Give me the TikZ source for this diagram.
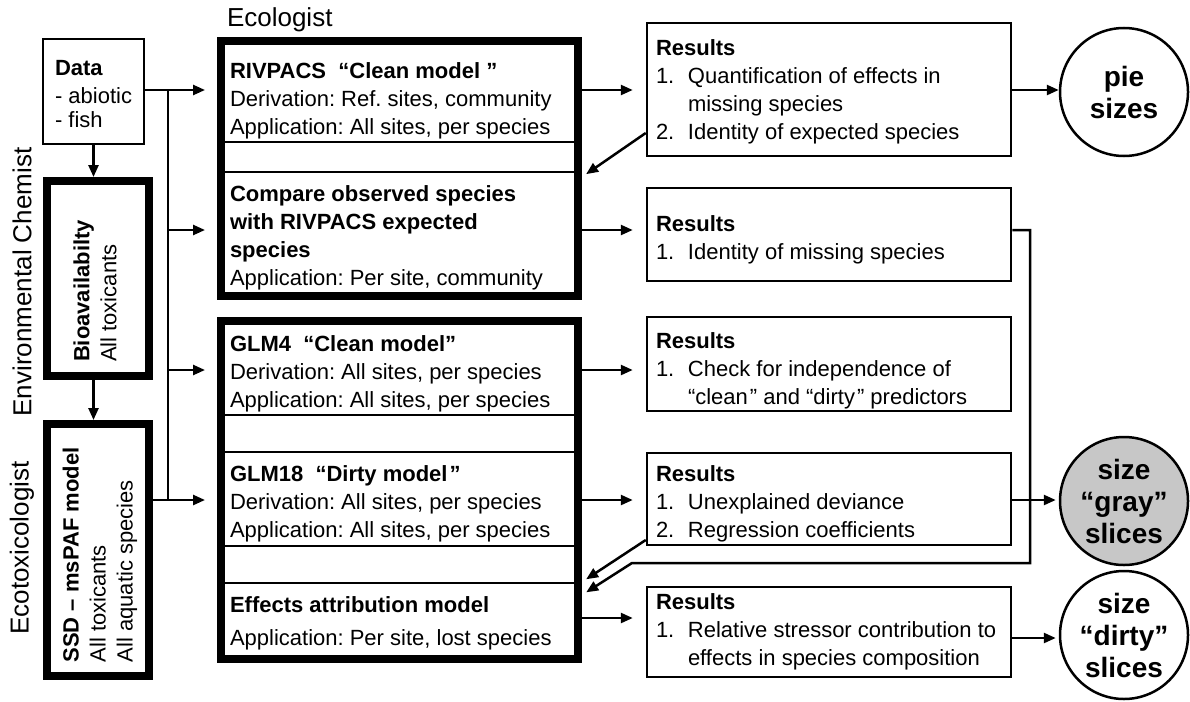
\documentclass[tikz,border=0pt]{standalone}
\usepackage{fontspec}
\setmainfont{Liberation Sans}
\usetikzlibrary{arrows.meta,calc}
\frenchspacing
\begin{document}
\begin{tikzpicture}[x=1pt,y=-1pt,
  txt/.style={inner sep=0pt, outer sep=0pt, font=\fontsize{22}{28}\selectfont, align=left, anchor=base west},
  rot/.style={inner sep=0pt, outer sep=0pt, font=\fontsize{22}{27}\selectfont, align=left, rotate=90},
  role/.style={inner sep=0pt, outer sep=0pt, font=\fontsize{26}{30}\selectfont},
  thickbox/.style={draw, line width=8pt, inner sep=0pt},
  thinbox/.style={draw, line width=2.5pt, inner sep=0pt},
  sepline/.style={line width=2pt},
  arr/.style={line width=2.5pt, -{Triangle[length=12pt,width=10pt]}},
  ln/.style={line width=2.5pt},
  circ/.style={circle, draw, line width=2.5pt, minimum size=128pt, inner sep=0pt,
    font=\bfseries\fontsize{28}{32}\selectfont, align=center},
]
\useasboundingbox (0,0) rectangle (1190,701);

% role labels
\node[role, anchor=base west] (ecol) at (227,27) {Ecologist};
\node[role, rotate=90] (envchem) at (22,282) {Environmental Chemist};
\node[role, rotate=90] (ecotox) at (22,548) {Ecotoxicologist};

% left column (text nodes anchored at the baseline of their last line)
\node[draw, line width=2pt, minimum width=101pt, minimum height=105pt] (Data) at (93.5,91.5) {};
\node[txt, font=\fontsize{22}{24}\selectfont] (datatxt) at (55,127) {\textbf{Data}\\[4pt]- abiotic\\- fish};
\node[thickbox, minimum width=102pt, minimum height=195pt] (Bio) at (98,278.5) {};
\node[rot] (biotxt) at (95,291) {\textbf{Bioavailabilty}\\All toxicants};
\node[thickbox, minimum width=102pt, minimum height=252pt] (SSD) at (98,550) {};
\node[rot] (ssdtxt) at (100,555) {\textbf{SSD – msPAF model}\\All toxicants\\All aquatic species};

% middle boxes
\node[thickbox, minimum width=357pt, minimum height=255pt] (A) at (399.5,168.5) {};
\draw[sepline] (225,142) -- (575,142);
\draw[sepline] (225,172) -- (575,172);
\node[txt] (rivtxt) at (230,134) {\textbf{RIVPACS\ \ “Clean model ”}\\Derivation: Ref. sites, community\\Application: All sites, per species};
\node[txt] (cmptxt) at (230,285) {\textbf{Compare observed species}\\\textbf{with RIVPACS expected}\\\textbf{species}\\Application: Per site, community};

\node[thickbox, minimum width=357pt, minimum height=338pt] (B) at (399.5,490) {};
\draw[sepline] (225,415) -- (575,415);
\draw[sepline] (225,452) -- (575,452);
\draw[sepline] (225,546) -- (575,546);
\draw[sepline] (225,583) -- (575,583);
\node[txt] (glm4txt) at (230,407) {\textbf{GLM4\ \ “Clean model”}\\Derivation: All sites, per species\\Application: All sites, per species};
\node[txt] (glm18txt) at (230,537) {\textbf{GLM18\ \ “Dirty model\kern2pt”}\\Derivation: All sites, per species\\Application: All sites, per species};
\node[txt] (efftxt) at (230,645) {\textbf{Effects attribution model}\\[5pt]Application: Per site, lost species};

% results boxes
\node[thinbox, minimum width=364pt, minimum height=133pt] (R1) at (829,89.5) {};
\node[txt] (r1txt) at (656,139) {\textbf{Results}\\\makebox[32pt][l]{1.}Quantification of effects in\\\hspace*{32pt}missing species\\\makebox[32pt][l]{2.}Identity of expected species};
\node[thinbox, minimum width=364pt, minimum height=93pt] (R2) at (829,234.5) {};
\node[txt] (r2txt) at (656,259) {\textbf{Results}\\\makebox[32pt][l]{1.}Identity of missing species};
\node[thinbox, minimum width=364pt, minimum height=94pt] (R3) at (829,364) {};
\node[txt] (r3txt) at (656,404) {\textbf{Results}\\\makebox[32pt][l]{1.}Check for independence of\\\hspace*{32pt}“clean\kern2pt” and “dirty\kern2pt” predictors};
\node[thinbox, minimum width=364pt, minimum height=92pt] (R4) at (829,499) {};
\node[txt] (r4txt) at (656,537) {\textbf{Results}\\\makebox[32pt][l]{1.}Unexplained deviance\\\makebox[32pt][l]{2.}Regression coefficients};
\node[thinbox, minimum width=364pt, minimum height=90pt] (R5) at (829,632) {};
\node[txt] (r5txt) at (656,665) {\textbf{Results}\\\makebox[32pt][l]{1.}Relative stressor contribution to\\\hspace*{32pt}effects in species composition};

% circles
\node[circ] (pie) at (1124,92) {pie\\sizes};
\node[circ, fill=black!22] (gray) at (1124,501) {size\\“gray”\\slices};
\node[circ] (dirty) at (1124,635) {size\\“dirty”\\slices};

% y levels
\coordinate (bus) at (168,90);
\coordinate (y230) at (0,230);
\coordinate (y370) at (0,370);
\coordinate (y500) at (0,500);
\coordinate (y618) at (0,618);
\coordinate (y638) at (0,638);
\coordinate (y133) at (0,133);
\coordinate (y177) at (0,177);
\coordinate (y540) at (0,540);
\coordinate (y582) at (0,582);
\coordinate (y595) at (0,595);
\coordinate (turn) at (1030,563);
\coordinate (bend) at (632,563);

% left connectors
\draw[arr] (Data.south) -- (Data.south |- Bio.north);
\draw[arr] (Data.south |- Bio.south) -- (Data.south |- SSD.north);
\draw[arr, shorten >=12pt] (Data.east |- bus) -- (A.west |- bus);
\draw[ln] (bus) -- (bus |- y500);
\draw[arr, shorten >=12pt] (bus |- y230) -- (A.west |- y230);
\draw[arr, shorten >=12pt] (bus |- y370) -- (B.west |- y370);
\draw[arr, shorten >=12pt] (bus |- y500) -- (B.west |- y500);
\draw[line width=1.5pt] (SSD.east |- y500) -- (bus |- y500);

% middle to results
\draw[arr, shorten >=13pt] (A.east |- bus) -- (R1.west |- bus);
\draw[arr, shorten >=13pt] (A.east |- y230) -- (R2.west |- y230);
\draw[arr, shorten >=13pt] (B.east |- y370) -- (R3.west |- y370);
\draw[arr, shorten >=13pt] (B.east |- y500) -- (R4.west |- y500);
\draw[arr, shorten >=13pt] (B.east |- y618) -- (R5.west |- y618);

% results to circles
\draw[arr] (R1.east |- bus) -- (pie.west |- bus);
\draw[arr, shorten >=3pt] (R4.east |- y500) -- (gray.west |- y500);
\draw[arr, shorten >=3pt] (R5.east |- y638) -- (dirty.west |- y638);

% feedback arrows
\draw[arr, shorten >=5pt] (R1.west |- y133) -- (A.east |- y177);
\draw[arr, shorten >=5pt] (R4.west |- y540) -- (B.east |- y582);
\draw[arr, shorten >=5pt] (R2.east |- y230) -| (turn) -- (bend) -- (B.east |- y595);
\end{tikzpicture}
\end{document}
